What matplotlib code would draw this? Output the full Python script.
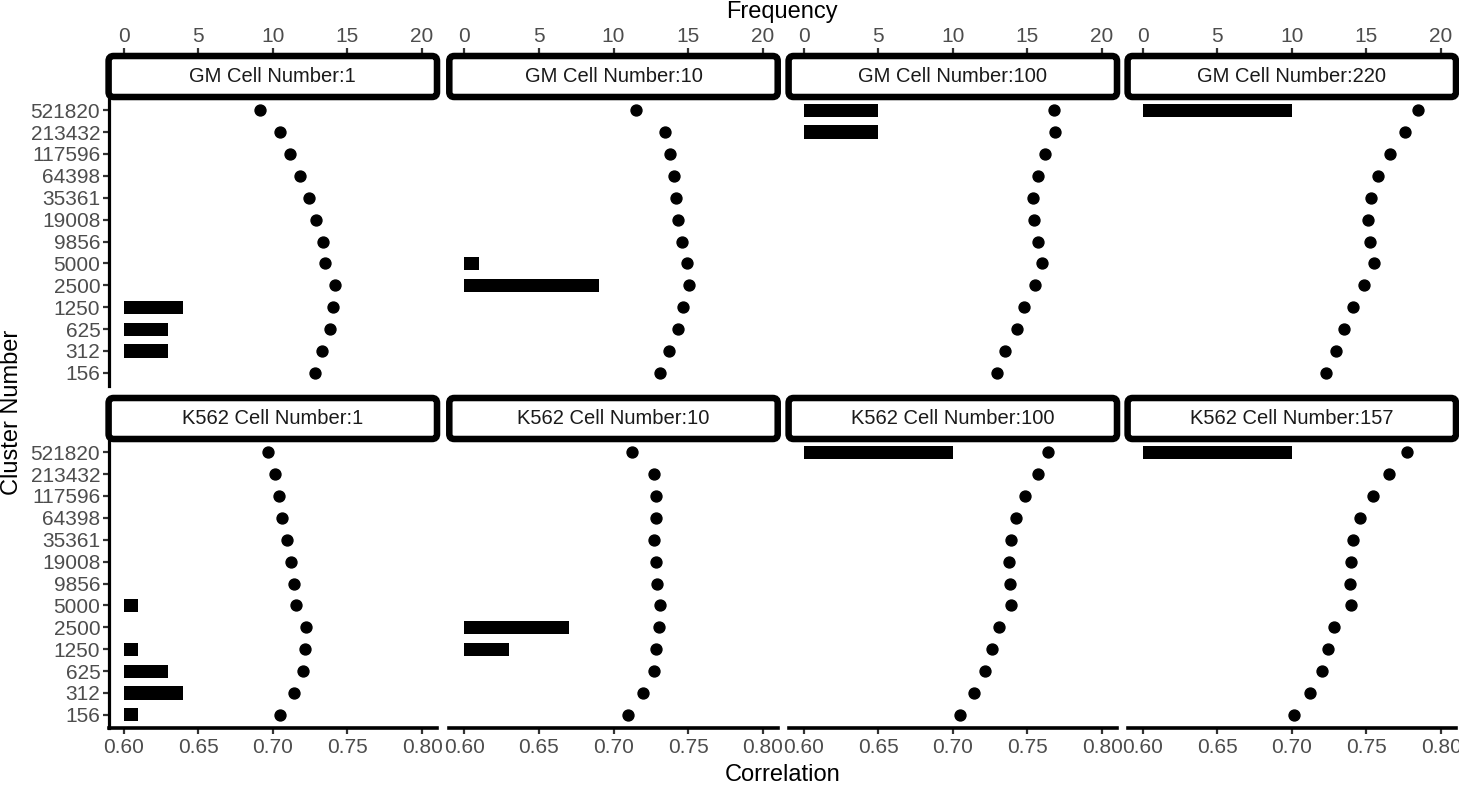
import matplotlib
matplotlib.use("Agg")
import matplotlib.pyplot as plt
from matplotlib.patches import FancyBboxPatch

plt.rcParams['font.family'] = ['Liberation Sans', 'DejaVu Sans']

# cluster numbers, bottom to top
clusters = ["156", "312", "625", "1250", "2500", "5000", "9856", "19008",
            "35361", "64398", "117596", "213432", "521820"]

titles = ["GM Cell Number:1", "GM Cell Number:10", "GM Cell Number:100", "GM Cell Number:220",
          "K562 Cell Number:1", "K562 Cell Number:10", "K562 Cell Number:100", "K562 Cell Number:157"]

# correlation per cluster number (156 -> 521820)
gm1_corr = [0.7285, 0.733, 0.738, 0.740, 0.742, 0.735, 0.7335, 0.729, 0.724, 0.7185, 0.7115, 0.705, 0.6915]
gm10_corr = [0.7313, 0.737, 0.7434, 0.7468, 0.7509, 0.749, 0.746, 0.7434, 0.7419, 0.7403, 0.738, 0.7342, 0.7151]
gm100_corr = [0.7295, 0.7353, 0.7432, 0.748, 0.7552, 0.7599, 0.757, 0.7545, 0.7539, 0.7568, 0.7617, 0.7685, 0.7676]
gm220_corr = [0.7232, 0.7293, 0.7353, 0.741, 0.7486, 0.755, 0.7525, 0.7511, 0.7529, 0.7579, 0.7658, 0.7759, 0.7845]
k1_corr = [0.7049, 0.7143, 0.7205, 0.7219, 0.7221, 0.7154, 0.7145, 0.712, 0.7096, 0.7064, 0.704, 0.7013, 0.6966]
k10_corr = [0.7096, 0.7195, 0.7271, 0.7288, 0.7304, 0.7309, 0.7293, 0.7282, 0.7273, 0.7282, 0.7282, 0.7271, 0.7125]
k100_corr = [0.7046, 0.7145, 0.7217, 0.726, 0.7311, 0.7392, 0.7381, 0.7379, 0.7392, 0.7424, 0.7486, 0.7572, 0.7636]
k157_corr = [0.7017, 0.7122, 0.7199, 0.7243, 0.7286, 0.7394, 0.7387, 0.7394, 0.7412, 0.7459, 0.7542, 0.765, 0.7773]

# frequency of best cluster number (156 -> 521820)
gm1_freq = [0, 3, 3, 4, 0, 0, 0, 0, 0, 0, 0, 0, 0]
gm10_freq = [0, 0, 0, 0, 9, 1, 0, 0, 0, 0, 0, 0, 0]
gm100_freq = [0, 0, 0, 0, 0, 0, 0, 0, 0, 0, 0, 5, 5]
gm220_freq = [0, 0, 0, 0, 0, 0, 0, 0, 0, 0, 0, 0, 10]
k1_freq = [1, 4, 3, 1, 0, 1, 0, 0, 0, 0, 0, 0, 0]
k10_freq = [0, 0, 0, 3, 7, 0, 0, 0, 0, 0, 0, 0, 0]
k100_freq = [0, 0, 0, 0, 0, 0, 0, 0, 0, 0, 0, 0, 10]
k157_freq = [0, 0, 0, 0, 0, 0, 0, 0, 0, 0, 0, 0, 10]

corrs = [gm1_corr, gm10_corr, gm100_corr, gm220_corr, k1_corr, k10_corr, k100_corr, k157_corr]
freqs = [gm1_freq, gm10_freq, gm100_freq, gm220_freq, k1_freq, k10_freq, k100_freq, k157_freq]

corr_ticks = [0.60, 0.65, 0.70, 0.75, 0.80]
freq_ticks = [0, 5, 10, 15, 20]

W, H = 1459, 785
fig = plt.figure(figsize=(W / 100, H / 100), dpi=100)


def rect(x0, y0, x1, y1):
    # pixel box (top-left origin) -> figure fraction
    return [x0 / W, 1 - y1 / H, (x1 - x0) / W, (y1 - y0) / H]


col_left = [108.6, 449.3, 788.6, 1127.6]
pw = 328.4
row_top = [97, 439]
ph = 289
strip_h = 41
grey_txt = '#4D4D4D'
tick_col = '#333333'
tick_size = 15
ypos = list(range(len(clusters)))

for i in range(8):
    r, c = divmod(i, 4)
    x0 = col_left[c]
    y0 = row_top[r]
    ax = fig.add_axes(rect(x0, y0, x0 + pw, y0 + ph))
    ax.set_xlim(0.59, 0.81)
    ax.set_ylim(-0.6, 12.6)

    axf = ax.twiny()
    axf.set_xlim(-1, 21)
    axf.barh(ypos, freqs[i], height=0.6, color='black', linewidth=0)
    axf.axis('off')

    ax.scatter(corrs[i], ypos, s=62, color='black', zorder=3, clip_on=False)

    for s in ['top', 'right']:
        ax.spines[s].set_visible(False)
    ax.spines['left'].set_visible(c == 0)
    ax.spines['bottom'].set_visible(r == 1)
    ax.spines['left'].set_linewidth(2.3)
    ax.spines['bottom'].set_linewidth(2.6)

    ax.tick_params(colors=tick_col, labelcolor=grey_txt, labelsize=tick_size, length=4, width=1.6)
    ax.tick_params(axis='y', pad=2)
    ax.set_yticks(ypos)
    if c == 0:
        ax.set_yticklabels(clusters)
    else:
        ax.tick_params(axis='y', left=False, labelleft=False)
    ax.set_xticks(corr_ticks)
    if r == 1:
        ax.set_xticklabels(["%.2f" % t for t in corr_ticks])
    else:
        ax.tick_params(axis='x', bottom=False, labelbottom=False)

    # strip with frequency axis on top
    sy0 = y0 - strip_h
    sax = fig.add_axes(rect(x0, sy0, x0 + pw, y0))
    sax.set_xlim(-1, 21)
    sax.set_ylim(0, 1)
    for s in sax.spines.values():
        s.set_visible(False)
    sax.set_yticks([])
    if r == 0:
        sax.xaxis.tick_top()
        sax.set_xticks(freq_ticks)
        sax.set_xticklabels([str(t) for t in freq_ticks])
        sax.tick_params(axis='x', colors=tick_col, labelcolor=grey_txt, labelsize=tick_size,
                        length=6, width=1.6, pad=1)
    else:
        sax.set_xticks([])
    sax.patch.set_visible(False)
    box = FancyBboxPatch((x0 / 100, (H - y0) / 100), pw / 100, strip_h / 100,
                         boxstyle="round,pad=0,rounding_size=0.05",
                         transform=fig.dpi_scale_trans, facecolor='white',
                         edgecolor='black', linewidth=4.7, zorder=5)
    fig.add_artist(box)
    fig.text((x0 + pw / 2) / W, 1 - (y0 - strip_h / 2) / H, titles[i], ha='center', va='center',
             fontsize=14.5, color='#1A1A1A', zorder=6)

fig.text((108.6 + 1456) / 2 / W, 1 - 12 / H, "Frequency", ha='center', va='center', fontsize=17)
fig.text((108.6 + 1456) / 2 / W, 1 - 775 / H, "Correlation", ha='center', va='center', fontsize=17)
fig.text(12 / W, 1 - 412 / H, "Cluster Number", ha='center', va='center', fontsize=17, rotation=90)

fig.savefig("out.png", dpi=100)
